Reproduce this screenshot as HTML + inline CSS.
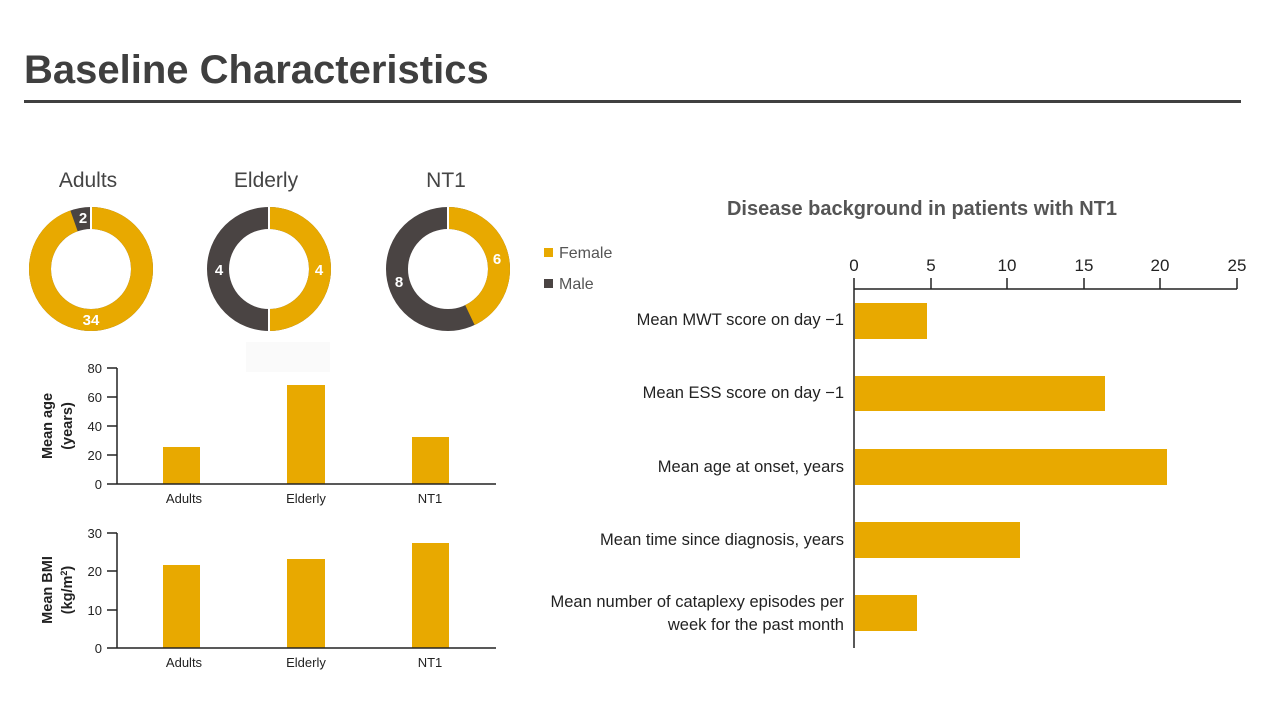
<!DOCTYPE html>
<html><head><meta charset="utf-8"><style>
body{margin:0;background:#fff;}
svg{display:block;font-family:"Liberation Sans",sans-serif;}
</style></head><body>
<svg width="1280" height="720" viewBox="0 0 1280 720">
<text x="24" y="83" font-size="40" font-weight="bold" fill="#3f3f3f">Baseline Characteristics</text>
<rect x="24" y="100" width="1217" height="3" fill="#404040"/>

<g font-size="21" fill="#444" text-anchor="middle">
<text x="88" y="187">Adults</text><text x="266" y="187">Elderly</text><text x="446" y="187">NT1</text>
</g>
<g fill="none" stroke-width="22">
<circle cx="91" cy="269" r="51" stroke="#4a4443"/>
<circle cx="91" cy="269" r="51" stroke="#E8A900" stroke-dasharray="302.6 400" transform="rotate(-90 91 269)"/>
<circle cx="269" cy="269" r="51" stroke="#4a4443"/>
<circle cx="269" cy="269" r="51" stroke="#E8A900" stroke-dasharray="160.2 400" transform="rotate(-90 269 269)"/>
<circle cx="448" cy="269" r="51" stroke="#4a4443"/>
<circle cx="448" cy="269" r="51" stroke="#E8A900" stroke-dasharray="137.3 400" transform="rotate(-90 448 269)"/>
</g>
<g stroke="#fff" stroke-width="2">
<line x1="91" y1="207" x2="91" y2="230"/><line x1="269" y1="207" x2="269" y2="331"/><line x1="448" y1="207" x2="448" y2="230"/>
</g>
<g font-size="15" font-weight="bold" fill="#fff" text-anchor="middle">
<text x="83" y="223">2</text><text x="91" y="325">34</text>
<text x="219" y="275">4</text><text x="319" y="275">4</text>
<text x="497" y="264">6</text><text x="399" y="287">8</text>
</g>
<rect x="544" y="248" width="9" height="9" fill="#E8A900"/><text x="559" y="258" font-size="16" fill="#555">Female</text>
<rect x="544" y="279" width="9" height="9" fill="#4a4443"/><text x="559" y="289" font-size="16" fill="#555">Male</text>
<rect x="246" y="342" width="84" height="30" fill="#fafafa"/>

<g fill="#E8A900">
<rect x="163" y="447" width="37" height="37"/><rect x="287" y="385" width="38" height="99"/><rect x="412" y="437" width="37" height="47"/>
<rect x="163" y="565" width="37" height="83"/><rect x="287" y="559" width="38" height="89"/><rect x="412" y="543" width="37" height="105"/>
</g>
<g stroke="#222" stroke-width="1.5">
<line x1="117" y1="368" x2="117" y2="484"/><line x1="107" y1="484" x2="496" y2="484"/>
<line x1="107" y1="368" x2="117" y2="368"/><line x1="107" y1="397" x2="117" y2="397"/><line x1="107" y1="426" x2="117" y2="426"/><line x1="107" y1="455" x2="117" y2="455"/>
<line x1="117" y1="533" x2="117" y2="648"/><line x1="107" y1="648" x2="496" y2="648"/>
<line x1="107" y1="533" x2="117" y2="533"/><line x1="107" y1="571" x2="117" y2="571"/><line x1="107" y1="610" x2="117" y2="610"/>
</g>
<g font-size="13" fill="#222" text-anchor="end">
<text x="102" y="373">80</text><text x="102" y="402">60</text><text x="102" y="431">40</text><text x="102" y="460">20</text><text x="102" y="489">0</text>
<text x="102" y="538">30</text><text x="102" y="576">20</text><text x="102" y="615">10</text><text x="102" y="653">0</text>
</g>
<g font-size="13" fill="#222" text-anchor="middle">
<text x="184" y="503">Adults</text><text x="306" y="503">Elderly</text><text x="430" y="503">NT1</text>
<text x="184" y="667">Adults</text><text x="306" y="667">Elderly</text><text x="430" y="667">NT1</text>
</g>
<g font-size="14.5" font-weight="bold" fill="#222" text-anchor="middle">
<text transform="translate(52 426) rotate(-90)">Mean age</text>
<text transform="translate(72 426) rotate(-90)">(years)</text>
<text transform="translate(52 590) rotate(-90)">Mean BMI</text>
<text transform="translate(72 590) rotate(-90)">(kg/m<tspan font-size="9" dy="-5">2</tspan><tspan dy="5">)</tspan></text>
</g>

<text x="922" y="215" font-size="20" font-weight="bold" fill="#555" text-anchor="middle">Disease background in patients with NT1</text>
<g fill="#E8A900">
<rect x="855" y="303" width="72" height="36"/><rect x="855" y="376" width="250" height="35"/><rect x="855" y="449" width="312" height="36"/>
<rect x="855" y="522" width="165" height="36"/><rect x="855" y="595" width="62" height="36"/>
</g>
<g stroke="#222" stroke-width="1.5">
<line x1="854" y1="278" x2="854" y2="648"/><line x1="854" y1="289" x2="1237" y2="289"/>
<line x1="931" y1="278" x2="931" y2="289"/><line x1="1007" y1="278" x2="1007" y2="289"/><line x1="1084" y1="278" x2="1084" y2="289"/><line x1="1160" y1="278" x2="1160" y2="289"/><line x1="1237" y1="278" x2="1237" y2="289"/>
</g>
<g font-size="17" fill="#222" text-anchor="middle">
<text x="854" y="271">0</text><text x="931" y="271">5</text><text x="1007" y="271">10</text><text x="1084" y="271">15</text><text x="1160" y="271">20</text><text x="1237" y="271">25</text>
</g>
<g font-size="16.5" fill="#222" text-anchor="end">
<text x="844" y="325">Mean MWT score on day −1</text>
<text x="844" y="398">Mean ESS score on day −1</text>
<text x="844" y="472">Mean age at onset, years</text>
<text x="844" y="545">Mean time since diagnosis, years</text>
<text x="844" y="607">Mean number of cataplexy episodes per</text>
<text x="844" y="630">week for the past month</text>
</g>
</svg>
</body></html>
